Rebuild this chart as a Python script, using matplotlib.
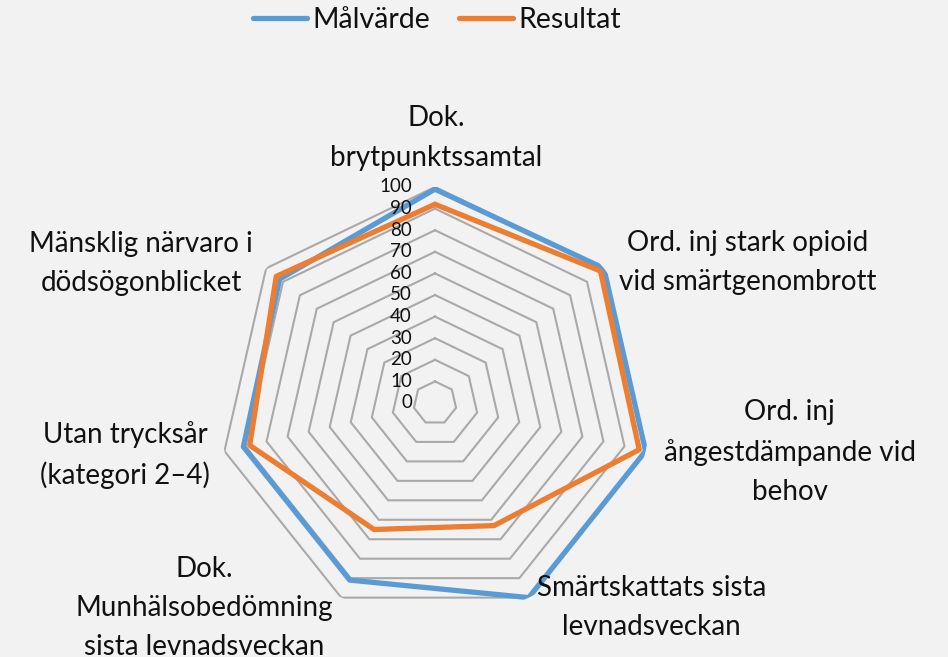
import numpy as np
import matplotlib
matplotlib.use("Agg")
import matplotlib.pyplot as plt

categories = [
    "Dok.\nbrytpunktssamtal",
    "Ord. inj stark opioid\nvid smärtgenombrott",
    "Ord. inj\nångestdämpande vid\nbehov",
    "Smärtskattats sista\nlevnadsveckan",
    "Dok.\nMunhälsobedömning\nsista levnadsveckan",
    "Utan trycksår\n(kategori 2–4)",
    "Mänsklig närvaro i\ndödsögonblicket",
]
malvarde = [99, 100, 100, 100, 91, 91, 92]
resultat = [92, 98, 97, 63, 65, 88, 94]
ticks = [0, 10, 20, 30, 40, 50, 60, 70, 80, 90, 100]
series_names = ["Målvärde", "Resultat"]

# label offsets (pixels) from each spoke end
label_offsets = [(1, 49), (144, 6), (144, -1), (123, -10), (-137, -10), (-99, -4), (-125, 5)]

BG = "#F2F2F2"
BLUE = "#5B9BD5"
ORANGE = "#ED7D31"
GRID = "#A9A9A9"
FONT = "Lato"
TXT = "#111111"

W, H = 948, 657
fig = plt.figure(figsize=(W / 100, H / 100), dpi=100, facecolor=BG)
cx, cy, R = 435, 403, 216
ax = fig.add_axes([(cx - R) / W, (H - cy - R) / H, 2 * R / W, 2 * R / H],
                  projection="polar", facecolor=BG)
ax.set_theta_zero_location("N")
ax.set_theta_direction(-1)
ax.set_ylim(0, 100)
ax.grid(False)
ax.spines["polar"].set_visible(False)
ax.set_xticks([])
ax.set_yticks([])

n = len(categories)
theta = np.arange(n) * 2 * np.pi / n
theta_c = np.append(theta, theta[0])

for t in ticks[1:]:
    ax.plot(theta_c, [t] * (n + 1), color=GRID, lw=1.5, zorder=1, solid_joinstyle="miter")

for vals, col, name in [(malvarde, BLUE, series_names[0]), (resultat, ORANGE, series_names[1])]:
    v = list(vals) + [vals[0]]
    ax.plot(theta_c, v, color=col, lw=3.8, zorder=3, label=name, solid_joinstyle="round",
            solid_capstyle="round")

for t in ticks:
    ax.annotate(str(t), xy=(0, t), xytext=(-23, 0), textcoords="offset pixels",
                ha="right", va="center", fontsize=13.5, family=FONT, color=TXT,
                annotation_clip=False)

for th, lab, (dx, dy) in zip(theta, categories, label_offsets):
    ax.annotate(lab, xy=(th, 100), xytext=(dx, dy), textcoords="offset pixels",
                ha="center", va="center", multialignment="center", fontsize=20,
                family=FONT, color=TXT, linespacing=1.62, annotation_clip=False)

leg = fig.legend(loc="center", bbox_to_anchor=(437 / W, 1 - 20 / H), ncol=2, frameon=False,
                 prop={"family": FONT, "size": 20.5}, handlelength=1.9, handletextpad=0.2,
                 columnspacing=1.0)
for line in leg.get_lines():
    line.set_linewidth(3.8)
for txt in leg.get_texts():
    txt.set_color(TXT)

fig.savefig("out.png", dpi=100, facecolor=BG)
